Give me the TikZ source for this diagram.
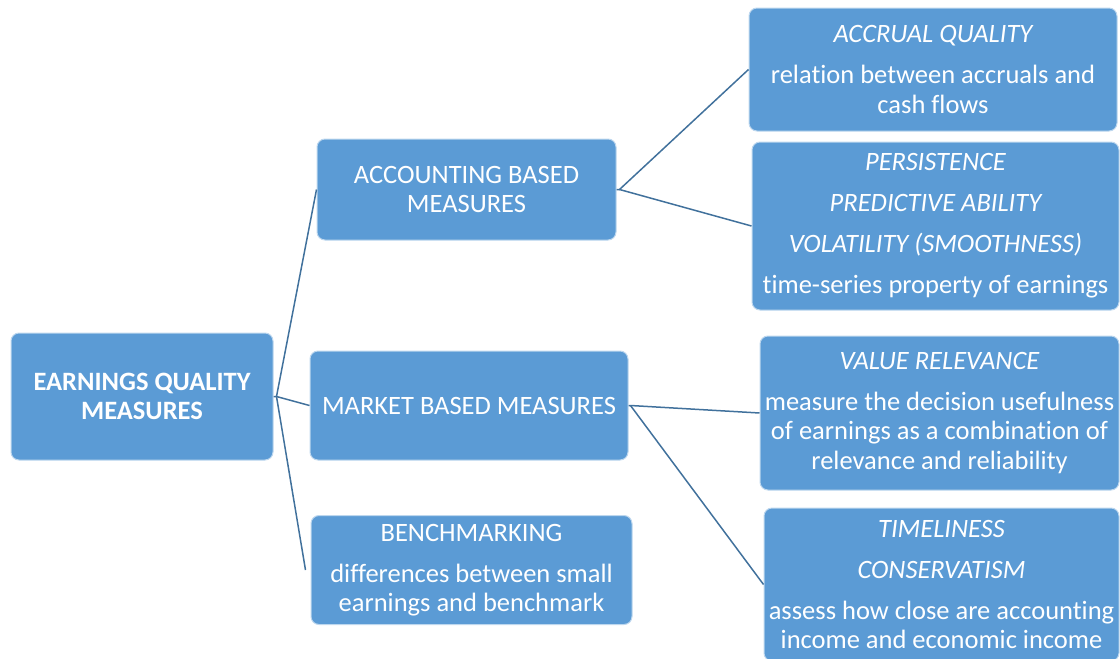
\documentclass[tikz,border=0pt]{standalone}
\usepackage{fontspec}
\setmainfont[Ligatures={NoCommon}]{Carlito}
\definecolor{boxblue}{HTML}{5B9BD5}
\definecolor{lineblue}{HTML}{41719C}
\begin{document}
\begin{tikzpicture}[x=1pt,y=-1pt,
  box/.style={draw=boxblue!40!white, line width=1pt, fill=boxblue, rounded corners=8pt,
    text=white, align=center, inner sep=0pt, font=\fontsize{26.5}{29.5}\selectfont},
  link/.style={draw=lineblue, line width=1.5pt}]
\useasboundingbox (0,0) rectangle (1120,659);
\node[box, font=\fontsize{26.5}{29.5}\selectfont\bfseries, minimum width=262, minimum height=127] (eq) at (142,396.5) {EARNINGS QUALITY\\MEASURES};
\node[box, minimum width=299, minimum height=101] (acc) at (466.5,189.5) {ACCOUNTING BASED\\MEASURES};
\node[box, minimum width=318, minimum height=109] (mkt) at (469,405.5) {MARKET BASED MEASURES};
\node[box, minimum width=321, minimum height=109] (ben) at (471.5,570) {BENCHMARKING\\[11.5pt]differences between small\\earnings and benchmark};
\node[box, minimum width=368, minimum height=123] (acq) at (933,69.5) {\itshape ACCRUAL QUALITY\\[11.5pt]relation between accruals and\\cash flows};
\node[box, minimum width=367, minimum height=168] (per) at (935.5,226) {\itshape PERSISTENCE\\[11.5pt]\itshape PREDICTIVE ABILITY\\[11.5pt]\itshape VOLATILITY (SMOOTHNESS)\\[11.5pt]time-series property of earnings};
\node[box, minimum width=359, minimum height=154] (val) at (939.5,413) {\itshape VALUE RELEVANCE\\[11.5pt]measure the decision usefulness\\of earnings as a combination of\\relevance and reliability};
\node[box, minimum width=355, minimum height=153] (tim) at (941.5,584.5) {\itshape TIMELINESS\\[11.5pt]\itshape CONSERVATISM\\[11.5pt]assess how close are accounting\\income and economic income};
\coordinate (j1) at ([xshift=3pt]eq.east);
\coordinate (j2) at ([xshift=3pt]acc.east);
\coordinate (j3) at ([xshift=2pt]mkt.east);
\draw[link] (eq.east) -- (j1) -- (acc.west);
\draw[link] (j1) -- (mkt.west);
\draw[link] (j1) -- ([xshift=-5pt]ben.west);
\draw[link] (acc.east) -- (j2) -- (acq.west);
\draw[link] (j2) -- (per.west);
\draw[link] (mkt.east) -- (j3) -- (val.west);
\draw[link] (j3) -- (tim.west);
\end{tikzpicture}
\end{document}
